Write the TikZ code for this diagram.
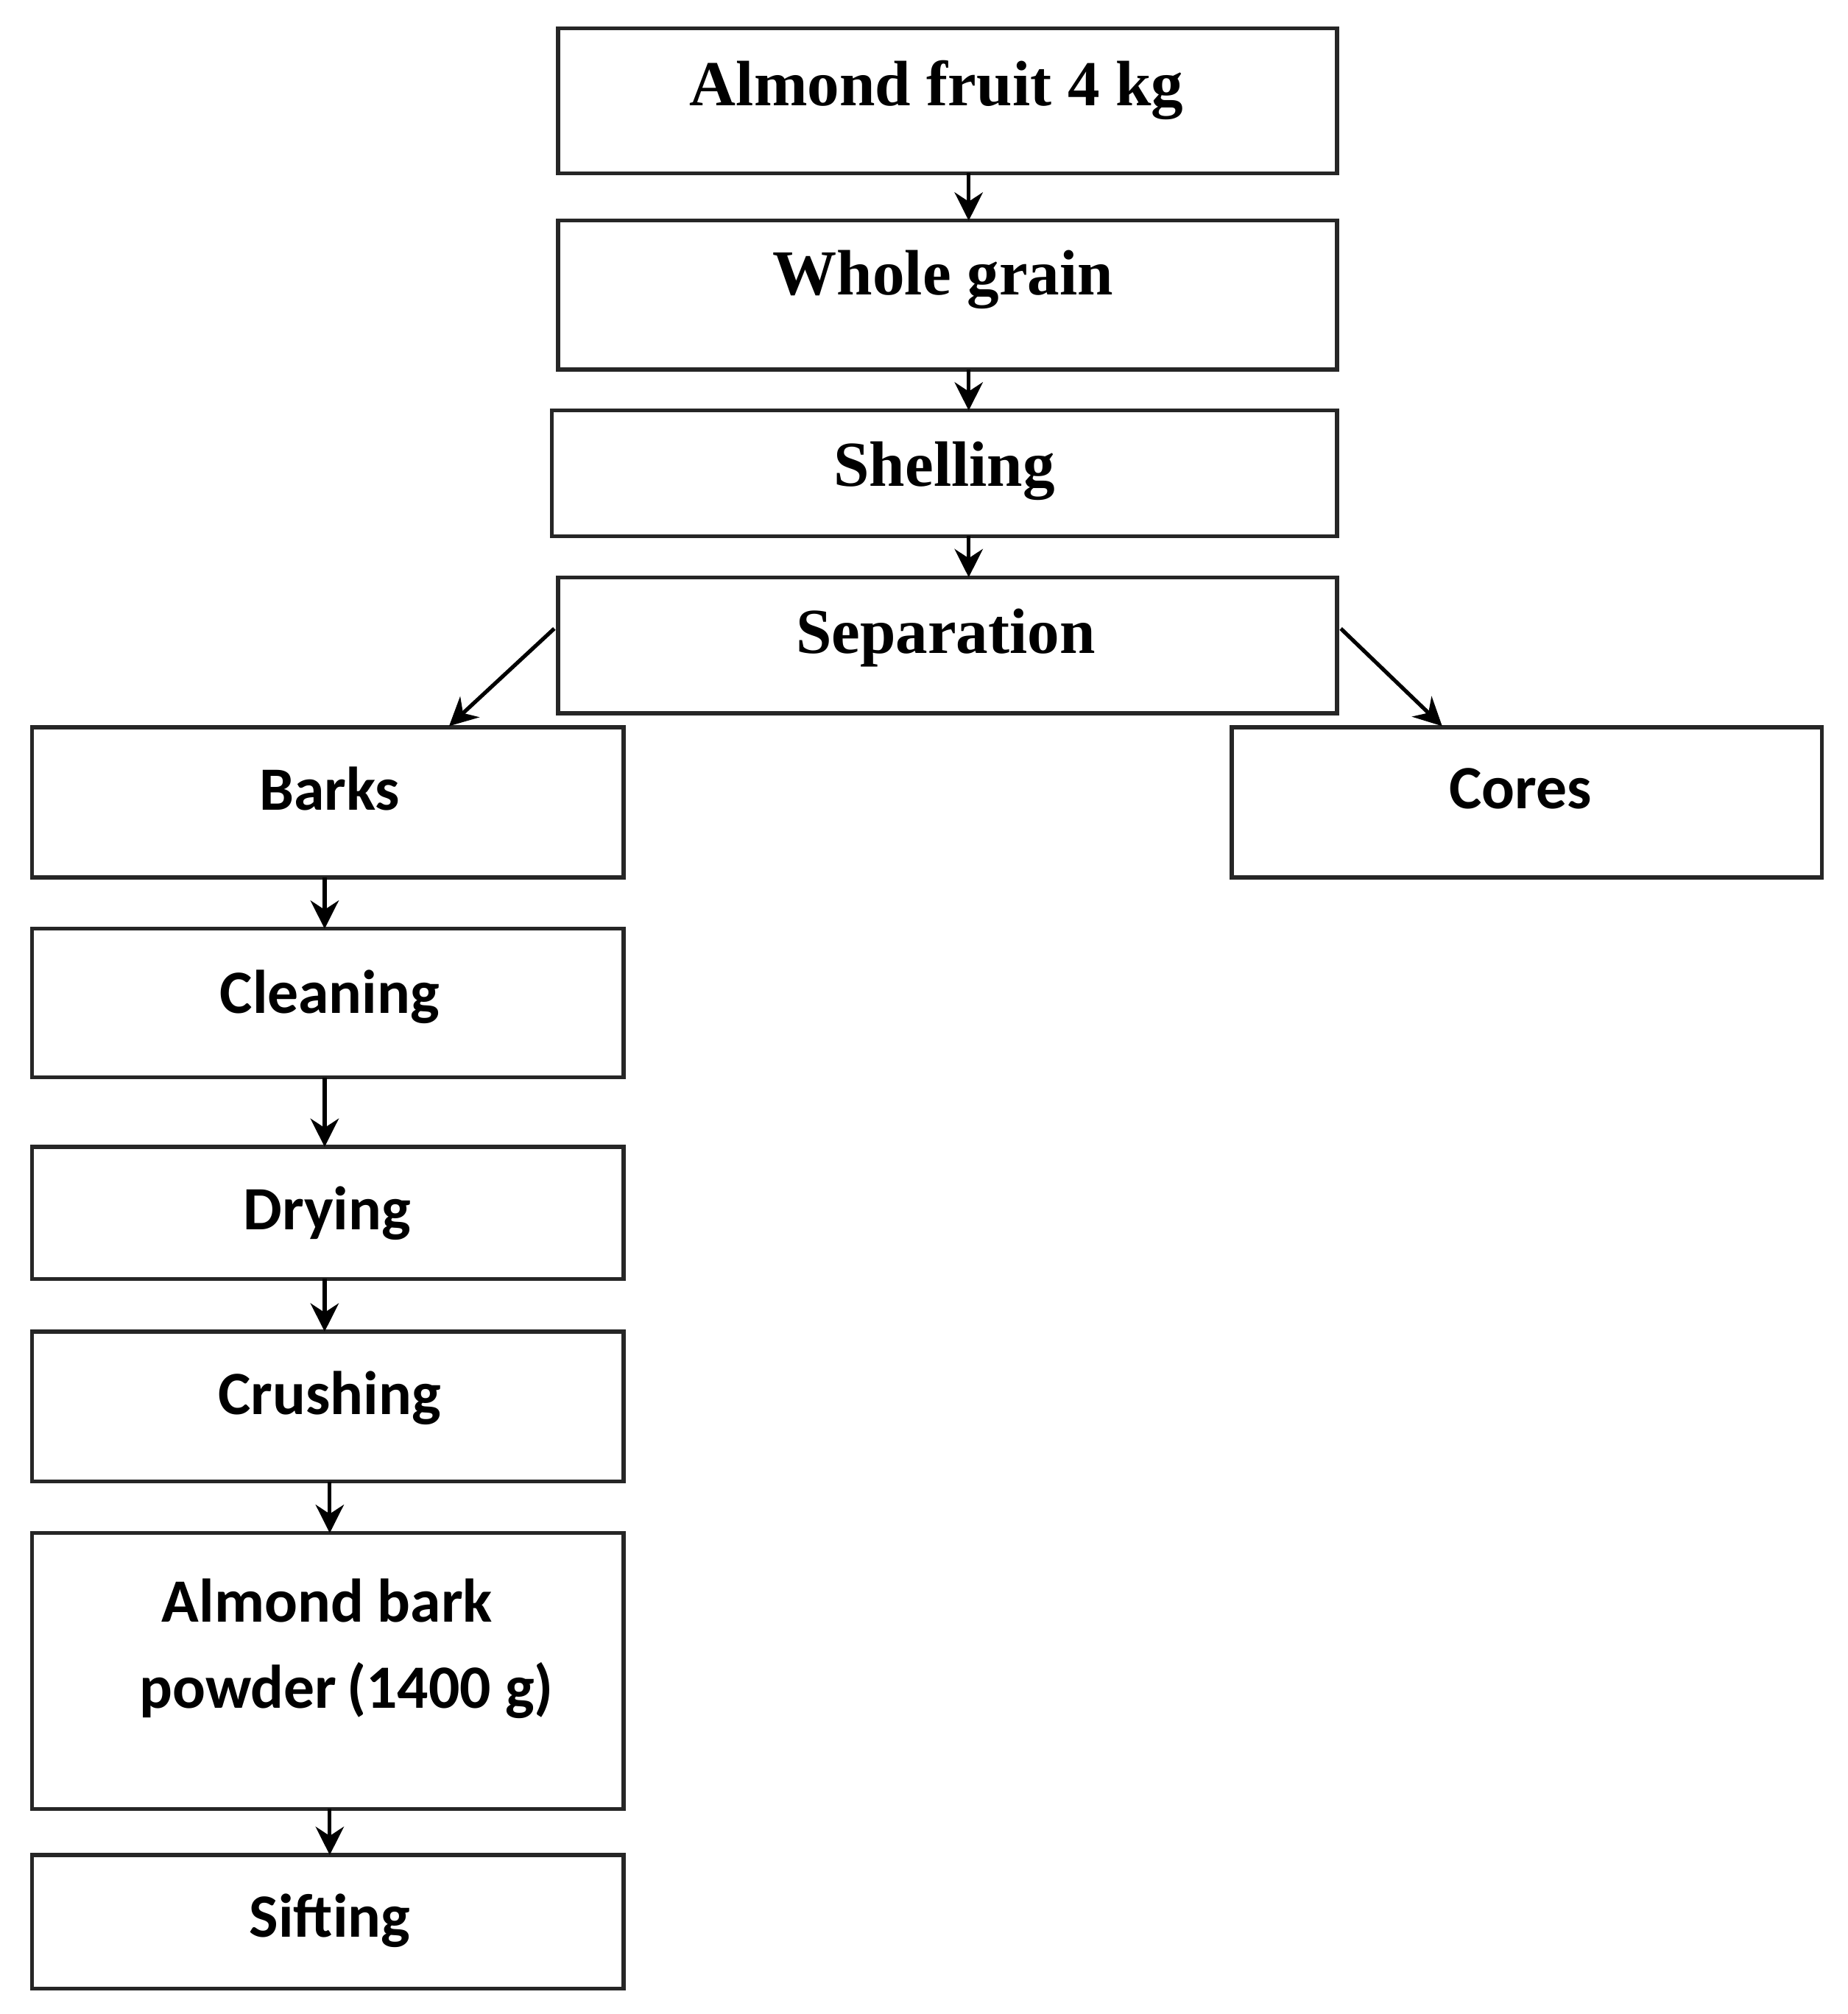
\documentclass[tikz,border=0pt]{standalone}
\usepackage{fontspec}
\setmainfont{Liberation Serif}
\newfontfamily\carl{Carlito}
\usetikzlibrary{arrows.meta}
\begin{document}
\begin{tikzpicture}[x=1pt,y=-1pt,
  box/.style={draw=black!85,line width=3pt},
  ser/.style={font=\fontsize{50}{56}\selectfont\bfseries},
  san/.style={font=\carl\fontsize{48}{56}\selectfont\bfseries},
  arr/.style={line width=3pt,-{Stealth[length=22pt,width=22pt]}}]
\useasboundingbox (0,0) rectangle (1440,1570);
\fill[white] (0,0) rectangle (1440,1570);
\draw[box] (435,22) rectangle (1042,135) coordinate (fruitbr);
\node[ser] (fruit) at (730,70) {Almond fruit 4 kg};
\draw[box] (435,172) rectangle (1042,288);
\node[ser] (whole) at (735,218) {Whole grain};
\draw[box] (430,320) rectangle (1042,418);
\node[ser] (shell) at (736,367) {Shelling};
\draw[box] (435,450) rectangle (1042,556);
\node[ser] (sep) at (737,497) {Separation};
\draw[box] (25,567) rectangle (486,684);
\node[san] (barks) at (257,615) {Barks};
\draw[box] (960,567) rectangle (1420,684);
\node[san] (cores) at (1185,615) {Cores};
\draw[box] (25,724) rectangle (486,840);
\node[san] (clean) at (257,777) {Cleaning};
\draw[box] (25,894) rectangle (486,997);
\node[san] (dry) at (255,946) {Drying};
\draw[box] (25,1038) rectangle (486,1155);
\node[san] (crush) at (257,1090) {Crushing};
\draw[box] (25,1195) rectangle (486,1410);
\node[san] (powder1) at (255,1248) {Almond bark};
\node[san] (powder2) at (270,1318) {powder\,(1400 g)};
\draw[box] (25,1446) rectangle (486,1550);
\node[san] (sift) at (257,1497) {Sifting};
% connectors
\coordinate (a1) at (755,135); \coordinate (a2) at (755,172);
\coordinate (b1) at (755,288); \coordinate (b2) at (755,320);
\coordinate (c1) at (755,418); \coordinate (c2) at (755,450);
\coordinate (d1) at (432,490); \coordinate (d2) at (350,566);
\coordinate (e1) at (1045,490); \coordinate (e2) at (1124,566);
\coordinate (f1) at (253,684); \coordinate (f2) at (253,724);
\coordinate (g1) at (253,840); \coordinate (g2) at (253,894);
\coordinate (h1) at (253,997); \coordinate (h2) at (253,1038);
\coordinate (i1) at (257,1155); \coordinate (i2) at (257,1195);
\coordinate (j1) at (257,1410); \coordinate (j2) at (257,1446);
\foreach \p in {a,b,c,d,e,f,g,h,i,j} \draw[arr] (\p1) -- (\p2);
\end{tikzpicture}
\end{document}
